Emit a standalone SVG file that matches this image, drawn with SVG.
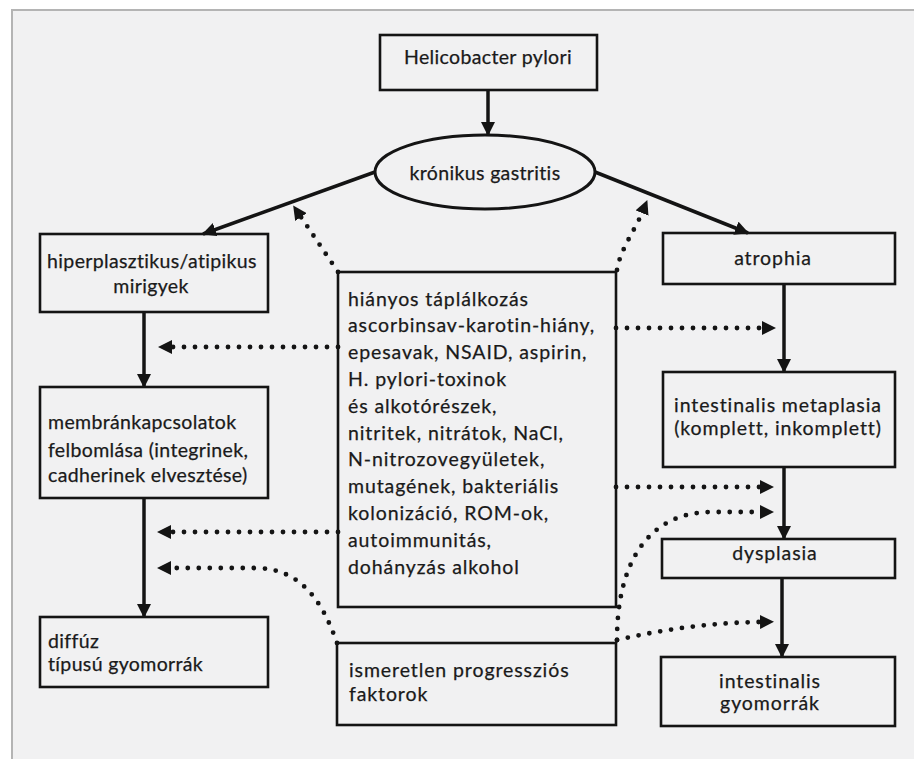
<svg xmlns="http://www.w3.org/2000/svg" width="914" height="759" viewBox="0 0 914 759">
<style>
.box{fill:none;stroke:#141414;stroke-width:2.6}
.t{font-family:Lato,"Liberation Sans",sans-serif;font-size:19.5px;fill:#1a1a1a;stroke:#1a1a1a;stroke-width:0.25;letter-spacing:0.9px}
.n{letter-spacing:0.35px}
.m{text-anchor:middle}
.sol{fill:none;stroke:#141414;stroke-width:3.5;marker-end:url(#ah)}
.dot{fill:none;stroke:#141414;stroke-width:4.8;stroke-linecap:round;stroke-dasharray:0 11;marker-end:url(#dh)}
</style>
<defs>
<marker id="ah" viewBox="0 0 14 14" markerWidth="14" markerHeight="14" refX="13" refY="7" orient="auto" markerUnits="userSpaceOnUse">
<path d="M0,0 L14,7 L0,14 z" fill="#141414"/>
</marker>
<marker id="dh" viewBox="0 0 14 14" markerWidth="14" markerHeight="14" refX="0" refY="7" orient="auto" markerUnits="userSpaceOnUse">
<path d="M0,0 L14,7 L0,14 z" fill="#141414"/>
</marker>
</defs>
<rect x="0" y="0" width="914" height="759" fill="#ffffff"/>
<rect x="12" y="10" width="904" height="751" fill="#f1f1f2" stroke="#b4b4b4" stroke-width="2"/>

<g id="connectors">
<path class="sol" d="M488,90 L488,135"/>
<path class="sol" d="M375,172 L203,234"/>
<path class="sol" d="M595,172 L748,233"/>
<path class="sol" d="M144,312 L144,387"/>
<path class="sol" d="M144,498 L144,617"/>
<path class="sol" d="M784,284 L784,372"/>
<path class="sol" d="M784,467 L784,539"/>
<path class="sol" d="M782,578 L782,657"/>
<path class="dot" d="M338,347 L172,347"/>
<path class="dot" d="M338,532 L171,532"/>
<path class="dot" d="M337,643 C322,600 300,568 255,568 L171,568"/>
<path class="dot" d="M338,272 L301,217"/>
<path class="dot" d="M617,270 C620,250 635,230 642,213"/>
<path class="dot" d="M616,328 L762,328"/>
<path class="dot" d="M616,487 L760,487"/>
<path class="dot" d="M617,640 C617,560 650,512 712,512 L760,512"/>
<path class="dot" d="M617,640 Q690,623 760,622"/>
</g>

<g id="helicobacter">
<rect class="box" x="380" y="35" width="217" height="55"/>
<text class="t m n" x="488" y="64">Helicobacter pylori</text>
</g>
<g id="gastritis">
<ellipse cx="485" cy="172" rx="110" ry="37" fill="none" stroke="#141414" stroke-width="3"/>
<text class="t m n" x="485" y="180">krónikus gastritis</text>
</g>
<g id="hiperplasztikus">
<rect class="box" x="40" y="234" width="228" height="78"/>
<text class="t m n" x="152" y="268">hiperplasztikus/atipikus</text>
<text class="t m n" x="151" y="293">mirigyek</text>
</g>
<g id="membran">
<rect class="box" x="40" y="387" width="228" height="111"/>
<text class="t n" x="48" y="429">membránkapcsolatok</text>
<text class="t n" x="48" y="457">felbomlása (integrinek,</text>
<text class="t n" x="48" y="482">cadherinek elvesztése)</text>
</g>
<g id="diffuz">
<rect class="box" x="40" y="617" width="228" height="70"/>
<text class="t n" x="48" y="648">diffúz</text>
<text class="t n" x="48" y="671">típusú gyomorrák</text>
</g>
<g id="faktorok">
<rect class="box" x="338" y="272" width="278" height="335"/>
<text class="t" x="348" y="305.5">hiányos táplálkozás</text>
<text class="t" x="348" y="332.3">ascorbinsav-karotin-hiány,</text>
<text class="t" x="348" y="359.1">epesavak, NSAID, aspirin,</text>
<text class="t" x="348" y="385.9">H. pylori-toxinok</text>
<text class="t" x="348" y="412.7">és alkotórészek,</text>
<text class="t" x="348" y="439.5">nitritek, nitrátok, NaCl,</text>
<text class="t" x="348" y="466.3">N-nitrozovegyületek,</text>
<text class="t" x="348" y="493.1">mutagének, bakteriális</text>
<text class="t" x="348" y="519.9">kolonizáció, ROM-ok,</text>
<text class="t" x="348" y="546.7">autoimmunitás,</text>
<text class="t" x="348" y="573.5">dohányzás alkohol</text>
</g>
<g id="ismeretlen">
<rect class="box" x="337" y="643" width="279" height="82"/>
<text class="t" x="349" y="677">ismeretlen progressziós</text>
<text class="t" x="349" y="701">faktorok</text>
</g>
<g id="atrophia">
<rect class="box" x="663" y="233" width="232" height="51"/>
<text class="t m" x="773" y="265">atrophia</text>
</g>
<g id="metaplasia">
<rect class="box" x="663" y="372" width="232" height="95"/>
<text class="t m" x="778" y="412">intestinalis metaplasia</text>
<text class="t m" x="778" y="435">(komplett, inkomplett)</text>
</g>
<g id="dysplasia">
<rect class="box" x="662" y="539" width="233" height="39"/>
<text class="t m" x="775" y="560">dysplasia</text>
</g>
<g id="intestinalis">
<rect class="box" x="661" y="657" width="234" height="69"/>
<text class="t m" x="770" y="688">intestinalis</text>
<text class="t m" x="770" y="710">gyomorrák</text>
</g>
</svg>
